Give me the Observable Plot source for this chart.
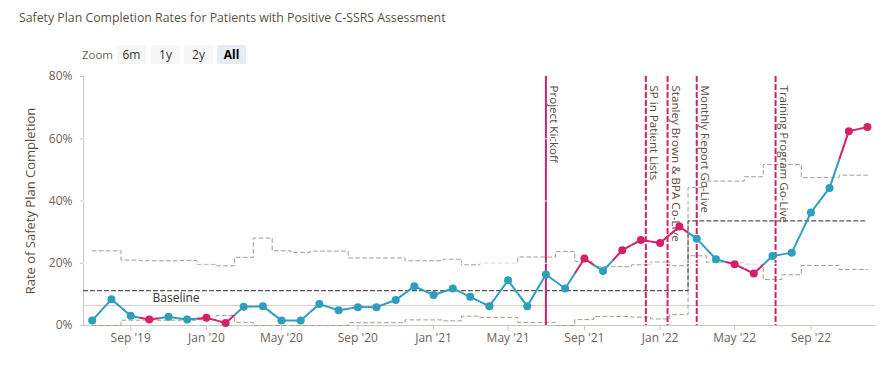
<!DOCTYPE html>
<html>
<head>
<meta charset="utf-8">
<script src="https://cdn.jsdelivr.net/npm/d3@7"></script>
<script src="https://cdn.jsdelivr.net/npm/@observablehq/plot@0.6"></script>
<style>
  html, body { margin: 0; padding: 0; background: #fff; }
  body { font-family: "Open Sans", "Noto Sans", sans-serif; }
  #wrap { position: relative; width: 886px; height: 384px; overflow: hidden; }
  #chart { position: absolute; left: 0; top: 0; }
  #title { position: absolute; left: 19px; top: 9px; font-size: 12.3px; color: #5b4f48; white-space: nowrap; }
  #zoomLabel { position: absolute; left: 70px; width: 43px; text-align: right; top: 45px; line-height: 19px; font-size: 11.5px; color: #666; }
  .btn { position: absolute; top: 45px; height: 19px; width: 29px; line-height: 19px; text-align: center;
         font-size: 12px; color: #333; background: #f7f7f7; border-radius: 2px; }
  .btn.sel { background: #e6ebf5; color: #000; font-weight: bold; }
</style>
</head>
<body>
<div id="wrap">
  <div id="chart"></div>
  <div id="title">Safety Plan Completion Rates for Patients with Positive C-SSRS Assessment</div>
  <div id="zoomLabel">Zoom</div>
  <div class="btn" style="left:117px">6m</div>
  <div class="btn" style="left:151px">1y</div>
  <div class="btn" style="left:184px">2y</div>
  <div class="btn sel" style="left:217px">All</div>
</div>
<script>
// ---- data ----
const months = [
  "2019-07-01","2019-08-01","2019-09-01","2019-10-01","2019-11-01","2019-12-01",
  "2020-01-01","2020-02-01","2020-03-01","2020-04-01","2020-05-01","2020-06-01",
  "2020-07-01","2020-08-01","2020-09-01","2020-10-01","2020-11-01","2020-12-01",
  "2021-01-01","2021-02-01","2021-03-01","2021-04-01","2021-05-01","2021-06-01",
  "2021-07-01","2021-08-01","2021-09-01","2021-10-01","2021-11-01","2021-12-01",
  "2022-01-01","2022-02-01","2022-03-01","2022-04-01","2022-05-01","2022-06-01",
  "2022-07-01","2022-08-01","2022-09-01","2022-10-01","2022-11-01","2022-12-01"
];
const rate = [
  1.6, 8.4, 3.1, 1.9, 2.8, 1.9,
  2.5, 0.8, 6.0, 6.2, 1.6, 1.6,
  6.9, 4.9, 5.9, 5.9, 8.2, 12.6,
  9.8, 11.9, 9.2, 6.2, 14.5, 6.2,
  16.4, 11.9, 21.5, 17.5, 24.2, 27.5,
  26.5, 31.8, 27.9, 21.3, 19.7, 16.7,
  22.3, 23.4, 36.3, 44.2, 62.4, 63.8
];
// 1 = special-cause point (pink), 0 = common cause (teal)
const flagged = [
  0,0,0,1,0,0,
  1,1,0,0,0,0,
  0,0,0,0,0,0,
  0,0,0,0,0,0,
  0,0,1,0,1,1,
  1,1,0,0,1,1,
  0,0,0,0,1,1
];
const upperLimit = [
  24.0, 24.0, 21.0, 20.8, 20.8, 20.9,
  19.7, 19.2, 21.9, 28.1, 24.0, 23.5,
  23.9, 23.9, 21.7, 21.7, 21.7, 20.8,
  20.8, 21.3, 19.5, 20.0, 20.0, 22.0,
  22.0, 23.8, 20.6, 18.9, 18.9, 19.5,
  20.4, 19.2, 44.3, 46.4, 46.4, 47.8,
  51.7, 51.7, 47.5, 47.6, 48.3, 48.3
];
const lowerLimit = [
  0.0, 0.0, 1.7, 1.7, 1.7, 1.7,
  1.9, 3.2, 1.0, 0.0, 0.0, 0.0,
  0.0, 0.0, 0.9, 0.9, 0.9, 1.8,
  1.8, 1.5, 3.0, 2.6, 2.6, 1.0,
  1.0, 0.0, 1.9, 2.9, 2.9, 2.7,
  2.1, 3.5, 22.4, 20.3, 20.1, 19.8,
  14.8, 16.3, 19.3, 19.3, 18.0, 18.0
];
const centerLine = [
  11.2, 11.2, 11.2, 11.2, 11.2, 11.2,
  11.2, 11.2, 11.2, 11.2, 11.2, 11.2,
  11.2, 11.2, 11.2, 11.2, 11.2, 11.2,
  11.2, 11.2, 11.2, 11.2, 11.2, 11.2,
  11.2, 11.2, 11.2, 11.2, 11.2, 11.2,
  11.2, 11.2, 33.6, 33.6, 33.6, 33.6,
  33.6, 33.6, 33.6, 33.6, 33.6, 33.6
];
const baselineValue = 6.4;
const baselineLabel = "Baseline";

const eventLabels = ["Project Kickoff", "SP in Patient Lists", "Stanley Brown & BPA Co-Live", "Monthly Report Go-Live", "Training Program Go-Live"];
const eventDates  = ["2021-07-01", "2021-12-09", "2022-01-13", "2022-03-01", "2022-07-06"];
const eventDashed = [false, true, true, true, true];

const xTickDates  = ["2019-09-01","2020-01-01","2020-05-01","2020-09-01","2021-01-01","2021-05-01","2021-09-01","2022-01-01","2022-05-01","2022-09-01"];
const xTickLabels = ["Sep '19","Jan '20","May '20","Sep '20","Jan '21","May '21","Sep '21","Jan '22","May '22","Sep '22"];
const yTicks = [0, 20, 40, 60, 80];
const yTitle = "Rate of Safety Plan Completion";

// ---- build tables ----
const PINK = "#d61f69", TEAL = "#2c9fbd";
const toDate = s => new Date(s + "T00:00:00Z");
const data = months.map((m, i) => ({
  date: toDate(m), rate: rate[i], pink: flagged[i] === 1,
  upper: upperLimit[i], lower: lowerLimit[i], center: centerLine[i]
}));
const segs = [];
for (let i = 0; i < data.length - 1; i++) {
  const a = data[i], b = data[i + 1];
  const md = new Date((+a.date + +b.date) / 2), mv = (a.rate + b.rate) / 2;
  segs.push({x1: a.date, y1: a.rate, x2: md, y2: mv, c: a.pink ? PINK : TEAL});
  segs.push({x1: md, y1: mv, x2: b.date, y2: b.rate, c: b.pink ? PINK : TEAL});
}
const xDomain = [toDate("2019-06-17"), toDate("2022-12-14")];
// centre line: first phase drawn from the left edge of the plot
const centerData = [{date: xDomain[0], center: centerLine[0]}, ...data.map(d => ({date: d.date, center: d.center}))];
const events = eventLabels.map((l, i) => ({label: l, date: toDate(eventDates[i]), dashed: eventDashed[i]}));
const tickDates = xTickDates.map(toDate);
const tickFmt = d => xTickLabels[tickDates.findIndex(t => +t === +d)];

const AXIS = "#ccc6c0", LABEL = "#6e625a";

const chart = Plot.plot({
  width: 886, height: 384,
  marginLeft: 83, marginRight: 11, marginTop: 76, marginBottom: 59,
  style: {fontFamily: '"Open Sans", "Noto Sans", sans-serif', fontSize: "12px", background: "transparent", color: LABEL},
  x: {type: "utc", domain: xDomain, label: null},
  y: {domain: [0, 80], label: null},
  marks: [
    Plot.ruleY([baselineValue], {stroke: "#d4cdc7", strokeWidth: 1}),
    Plot.ruleX([xDomain[0]], {stroke: AXIS}),
    Plot.ruleY([0], {stroke: AXIS}),
    Plot.line(data, {x: "date", y: "upper", curve: "step", stroke: "#a89c93", strokeWidth: 1, strokeDasharray: "4,3"}),
    Plot.line(data, {x: "date", y: "lower", curve: "step", stroke: "#a89c93", strokeWidth: 1, strokeDasharray: "4,3"}),
    Plot.line(centerData, {x: "date", y: "center", curve: "step", stroke: "#555", strokeWidth: 1.2, strokeDasharray: "4,3"}),
    Plot.ruleX(events.filter(e => !e.dashed), {x: "date", stroke: PINK, strokeWidth: 2}),
    Plot.ruleX(events.filter(e => e.dashed), {x: "date", stroke: PINK, strokeWidth: 2, strokeDasharray: "6,2"}),
    Plot.text(events, {x: "date", text: "label", rotate: 90, frameAnchor: "top", textAnchor: "start", lineAnchor: "middle",
                       dx: 8, dy: 9, fill: "#5c4a40", fontSize: 11.6}),
    Plot.ruleY([20, 40, 60], {stroke: "#fff", strokeWidth: 1}),
    Plot.text([baselineValue], {y: d => d, text: () => baselineLabel, frameAnchor: "left", textAnchor: "start",
                                dx: 69, dy: -7, fill: "#333", fontSize: 12}),
    Plot.link(segs, {x1: "x1", y1: "y1", x2: "x2", y2: "y2", stroke: "c", strokeWidth: 2}),
    Plot.dot(data, {x: "date", y: "rate", r: 4, fill: d => d.pink ? PINK : TEAL, stroke: "none"}),
    Plot.axisX(tickDates, {tickFormat: tickFmt, tickSize: 5, tickPadding: 3, stroke: AXIS, fill: LABEL, label: null, fontSize: 12}),
    Plot.axisY(yTicks, {tickFormat: d => d + "%", tickSize: 3, tickPadding: 8, stroke: AXIS, fill: LABEL, label: null, fontSize: 12}),
    Plot.text([yTitle], {frameAnchor: "left", textAnchor: "middle", rotate: -90, dx: -53, fill: "#5c4f47", fontSize: 13})
  ]
});
document.getElementById("chart").appendChild(chart);
</script>
</body>
</html>
